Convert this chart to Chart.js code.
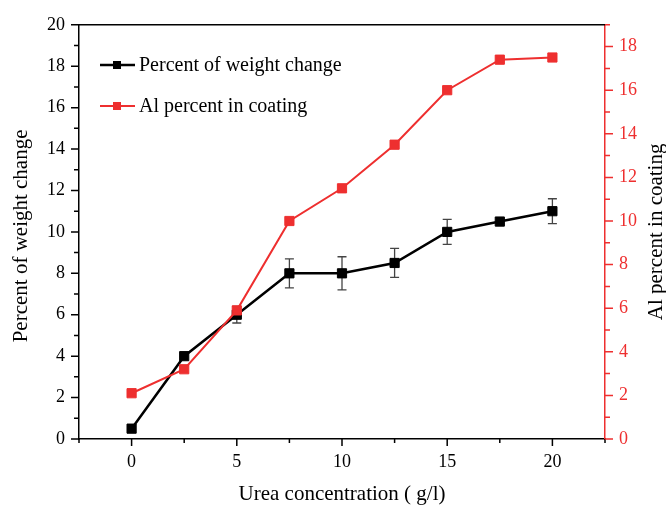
<!DOCTYPE html>
<html>
<head>
<meta charset="utf-8">
<script src="https://cdn.jsdelivr.net/npm/chart.js@4.4.1/dist/chart.umd.min.js"></script>
<style>
  html, body { margin: 0; padding: 0; background: #fff; }
  #wrap { width: 666px; height: 511px; }
</style>
</head>
<body>
<div id="wrap"><canvas id="c" width="666" height="511"></canvas></div>
<script>
// urea concentration (g/l) vs weight change and Al content
const urea = [0, 2.5, 5, 7.5, 10, 12.5, 15, 17.5, 20];
const weightChange = [0.5, 4.0, 6.0, 8.0, 8.0, 8.5, 10.0, 10.5, 11.0];
const weightErr = [0, 0, 0.4, 0.7, 0.8, 0.7, 0.6, 0, 0.6];
const alPercent = [2.1, 3.2, 5.9, 10.0, 11.5, 13.5, 16.0, 17.4, 17.5];
const xLabels = [0, 5, 10, 15, 20];

const RED = '#ee2f2f';
const FONT = '"Liberation Serif", "Times New Roman", serif';

// error bars for the weight-change series, under the markers
const errorBars = {
  id: 'errorBars',
  beforeDatasetsDraw(chart) {
    const { ctx, scales: { x, y } } = chart;
    ctx.save();
    ctx.strokeStyle = '#444';
    ctx.lineWidth = 1.3;
    urea.forEach((u, i) => {
      const e = weightErr[i];
      if (!e) return;
      const px = x.getPixelForValue(u);
      const top = y.getPixelForValue(weightChange[i] + e);
      const bot = y.getPixelForValue(weightChange[i] - e);
      ctx.beginPath();
      ctx.moveTo(px, top); ctx.lineTo(px, bot);
      ctx.moveTo(px - 4.5, top); ctx.lineTo(px + 4.5, top);
      ctx.moveTo(px - 4.5, bot); ctx.lineTo(px + 4.5, bot);
      ctx.stroke();
    });
    ctx.restore();
  }
};

// outward major/minor tick marks, top frame line, axis titles, legend
const frame = {
  id: 'frame',
  afterDraw(chart) {
    const { ctx, chartArea: a, scales: { x, y, y2 } } = chart;
    ctx.save();
    ctx.lineWidth = 1.5;

    ctx.strokeStyle = '#000';
    ctx.beginPath();
    ctx.moveTo(a.left, a.top); ctx.lineTo(a.right, a.top);
    x.ticks.forEach(t => {
      const px = x.getPixelForValue(t.value);
      const len = t.value % 5 === 0 ? 7 : 4;
      ctx.moveTo(px, a.bottom); ctx.lineTo(px, a.bottom + len);
    });
    y.ticks.forEach(t => {
      const py = y.getPixelForValue(t.value);
      const len = t.value % 2 === 0 ? 8 : 5;
      ctx.moveTo(a.left, py); ctx.lineTo(a.left - len, py);
    });
    ctx.stroke();

    ctx.strokeStyle = RED;
    ctx.beginPath();
    y2.ticks.forEach(t => {
      const py = y2.getPixelForValue(t.value);
      const len = t.value % 2 === 0 ? 8 : 5;
      ctx.moveTo(a.right, py); ctx.lineTo(a.right + len, py);
    });
    ctx.stroke();

    // axis titles
    ctx.fillStyle = '#000';
    ctx.font = '21px ' + FONT;
    ctx.textAlign = 'center';
    ctx.textBaseline = 'middle';
    ctx.fillText('Urea concentration ( g/l)', (a.left + a.right) / 2, 494);
    ctx.save();
    ctx.translate(21, (a.top + a.bottom) / 2 + 4);
    ctx.rotate(-Math.PI / 2);
    ctx.fillText('Percent of weight change', 0, 0);
    ctx.restore();
    ctx.save();
    ctx.translate(656, (a.top + a.bottom) / 2);
    ctx.rotate(-Math.PI / 2);
    ctx.fillText('Al percent in coating', 0, 0);
    ctx.restore();

    // legend
    const items = [
      { label: 'Percent of weight change', color: '#000', y: 65, w: 2.5 },
      { label: 'Al percent in coating', color: RED, y: 106, w: 2 }
    ];
    ctx.textAlign = 'left';
    ctx.font = '20px ' + FONT;
    items.forEach(it => {
      ctx.strokeStyle = it.color;
      ctx.lineWidth = it.w;
      ctx.beginPath();
      ctx.moveTo(100, it.y); ctx.lineTo(135, it.y);
      ctx.stroke();
      ctx.fillStyle = it.color;
      ctx.fillRect(113, it.y - 4, 8, 8);
      ctx.fillStyle = '#000';
      ctx.fillText(it.label, 139, it.y + 1);
    });
    ctx.restore();
  }
};

new Chart(document.getElementById('c'), {
  type: 'line',
  data: {
    datasets: [
      {
        label: 'Al percent in coating',
        data: urea.map((u, i) => ({ x: u, y: alPercent[i] })),
        yAxisID: 'y2',
        borderColor: RED,
        backgroundColor: RED,
        borderWidth: 2,
        pointStyle: 'rect',
        pointRadius: 6.5,
        pointBorderWidth: 1,
        order: 0
      },
      {
        label: 'Percent of weight change',
        data: urea.map((u, i) => ({ x: u, y: weightChange[i] })),
        yAxisID: 'y',
        borderColor: '#000',
        backgroundColor: '#000',
        borderWidth: 2.5,
        pointStyle: 'rect',
        pointRadius: 6.5,
        pointBorderWidth: 1,
        order: 1
      }
    ]
  },
  options: {
    responsive: false,
    animation: false,
    layout: { padding: { top: 15, left: 0, right: 0, bottom: 0 } },
    plugins: { legend: { display: false }, tooltip: { enabled: false } },
    scales: {
      x: {
        type: 'linear',
        min: -2.5, max: 22.5,
        grid: { display: false, drawTicks: false },
        border: { display: true, color: '#000', width: 1.5 },
        ticks: {
          stepSize: 2.5,
          padding: 12,
          color: '#000',
          font: { family: FONT, size: 18 },
          maxRotation: 0,
          autoSkip: false,
          callback: v => (xLabels.includes(v) ? String(v) : '')
        },
        afterFit: s => { s.height = 72; }
      },
      y: {
        position: 'left',
        min: 0, max: 20,
        grid: { display: false, drawTicks: false },
        border: { display: true, color: '#000', width: 1.5 },
        ticks: {
          stepSize: 1,
          padding: 14,
          color: '#000',
          font: { family: FONT, size: 18 },
          autoSkip: false,
          callback: v => (v % 2 === 0 ? String(v) : '')
        },
        afterFit: s => { s.width = 79; }
      },
      y2: {
        position: 'right',
        min: 0, max: 19,
        grid: { display: false, drawTicks: false },
        border: { display: true, color: RED, width: 1.5 },
        ticks: {
          stepSize: 1,
          padding: 14,
          color: RED,
          font: { family: FONT, size: 18 },
          autoSkip: false,
          callback: v => (v % 2 === 0 ? String(v) : '')
        },
        afterFit: s => { s.width = 61; }
      }
    }
  },
  plugins: [errorBars, frame]
});
</script>
</body>
</html>
